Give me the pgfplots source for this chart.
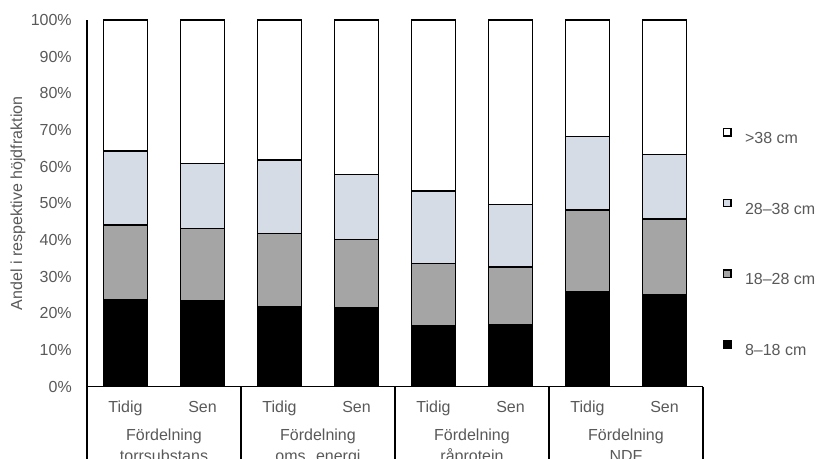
\documentclass[border=0pt]{standalone}
\usepackage{fontspec}
\setmainfont{Liberation Sans}
\usepackage{pgfplots}
\pgfplotsset{compat=1.18}
\definecolor{txtgray}{HTML}{595959}
\definecolor{midgray}{HTML}{A5A5A5}
\definecolor{lightbg}{HTML}{D6DCE5}
\begin{document}
\fontsize{12pt}{14pt}\selectfont
\begin{tikzpicture}[font=\fontsize{12pt}{14pt}\selectfont]
\begin{axis}[
  name=ax,
  scale only axis,
  width=462pt, height=275pt,
  xmin=-0.5, xmax=7.5, ymin=0, ymax=100,
  ybar stacked, bar width=33pt,
  legend image code/.code={\draw[#1] (0pt,1.2pt) rectangle (5.5pt,6.7pt);},
  axis x line*=bottom, axis y line*=left,
  axis line style={-, black, line width=1pt},
  xtick=\empty,
  ytick={0,10,...,100},
  yticklabel={\pgfmathprintnumber{\tick}\%},
  /pgf/number format/assume math mode=true,
  every tick label/.append style={font=\fontsize{12pt}{14pt}\selectfont},
  yticklabel style={text=txtgray, anchor=east, inner sep=0pt, xshift=-11.25pt},
  major tick length=0pt,
  ylabel={Andel i respektive höjdfraktion},
  ylabel style={text=txtgray, at={(axis description cs:-0.112,0.5)}, anchor=center, font=\fontsize{12pt}{14pt}\selectfont},
  clip=false,
  reverse legend,
  legend style={draw=none, fill=none, inner sep=0pt, outer sep=0pt,
    at={(axis description cs:1.0325,0.3954)}, anchor=west,
    font=\fontsize{12pt}{14pt}\selectfont,
    nodes={inner sep=0pt, text height=9pt, text depth=0pt, text=txtgray},
    row sep=41.3pt, column sep=10pt},
  legend cell align=left,
]
\addplot[fill=black, draw=black, line width=1pt] coordinates {(0,23.6) (1,23.5) (2,21.9) (3,21.5) (4,16.7) (5,17.0) (6,26.0) (7,25.0)};
\addlegendentry{8--18 cm}
\addplot[fill=midgray, draw=black, line width=1pt] coordinates {(0,20.5) (1,19.7) (2,19.8) (3,18.6) (4,16.8) (5,15.6) (6,22.2) (7,20.7)};
\addlegendentry{18--28 cm}
\addplot[fill=lightbg, draw=black, line width=1pt] coordinates {(0,20.2) (1,17.7) (2,20.1) (3,17.8) (4,19.9) (5,17.0) (6,20.0) (7,17.7)};
\addlegendentry{28--38 cm}
\addplot[fill=white, draw=black, line width=1pt] coordinates {(0,35.7) (1,39.1) (2,38.2) (3,42.1) (4,46.6) (5,50.4) (6,31.8) (7,36.6)};
\addlegendentry{>38 cm}
% category separators
\foreach \xx in {-0.5,1.5,3.5,5.5,7.5} {
  \edef\temp{\noexpand\draw[black, line width=1pt] (axis cs:\xx,0) -- (axis cs:\xx,-30);}
  \temp
}
\foreach \xx/\lab in {0/Tidig,1/Sen,2/Tidig,3/Sen,4/Tidig,5/Sen,6/Tidig,7/Sen} {
  \edef\temp{\noexpand\node[anchor=base, text=txtgray, inner sep=0pt, font=\noexpand\fontsize{12pt}{14pt}\noexpand\selectfont] at (axis cs:\xx,-7.09) {\lab};}
  \temp
}
\foreach \xx/\lab in {0.5/torrsubstans,2.5/oms. energi,4.5/råprotein,6.5/NDF} {
  \edef\temp{\noexpand\node[anchor=base, text=txtgray, inner sep=0pt, font=\noexpand\fontsize{12pt}{14pt}\noexpand\selectfont] at (axis cs:\xx,-14.73) {Fördelning};
    \noexpand\node[anchor=base, text=txtgray, inner sep=0pt, font=\noexpand\fontsize{12pt}{14pt}\noexpand\selectfont] at (axis cs:\xx,-20.3) {\lab};}
  \temp
}
\end{axis}
\pgfresetboundingbox
\path[use as bounding box] ([xshift=-65.25pt,yshift=-54.2pt]ax.south west) rectangle ([xshift=546.75pt,yshift=290pt]ax.south west);
\end{tikzpicture}
\end{document}
